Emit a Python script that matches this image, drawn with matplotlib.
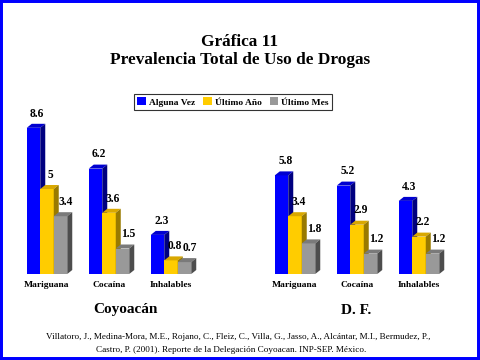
import numpy as np
import matplotlib
matplotlib.use('Agg')
import matplotlib.pyplot as plt
from matplotlib.patches import Polygon, Rectangle

# datos
drogas = ['Mariguana', 'Cocaína', 'Inhalables']
regiones = ['Coyoacán', 'D. F.']
series = ['Alguna Vez', 'Último Año', 'Último Mes']
alguna_vez = [8.6, 6.2, 2.3, 5.8, 5.2, 4.3]
ultimo_ano = [5, 3.6, 0.8, 3.4, 2.9, 2.2]
ultimo_mes = [3.4, 1.5, 0.7, 1.8, 1.2, 1.2]

titulo = 'Gráfica 11\nPrevalencia Total de Uso de Drogas'
cita1 = 'Villatoro, J., Medina-Mora, M.E., Rojano, C., Fleiz, C., Villa, G., Jasso, A., Alcántar, M.I., Bermudez, P.,'
cita2 = 'Castro, P. (2001). Reporte de la Delegación Coyoacan. INP-SEP. México.'

# colores: frente, tapa, lado
colores = [('#0000FF', '#0000D0', '#000080'),
           ('#FFCC00', '#D9A800', '#997A00'),
           ('#999999', '#7A7A7A', '#4D4D4D')]

plt.rcParams['font.family'] = ['Liberation Serif', 'DejaVu Serif']

fig = plt.figure(figsize=(4.8, 3.6), dpi=100)
fig.patch.set_facecolor('white')

# ejes: 62 px por grupo, 17 px por unidad
px_x = 62.0
px_y = 17.0
x0 = 47.0 - 0.6 * px_x
ax = fig.add_axes([x0 / 480, 86 / 360, 7.2 * px_x / 480, 154 / 360])
ax.set_xlim(-0.6, 6.6)
ax.set_ylim(0, 154 / px_y)
ax.axis('off')

pos = np.array([0, 1, 2, 4, 5, 6])
w = 13.5 / px_x
dx = 5 / px_x
dy = 4 / px_y

valores = [alguna_vez, ultimo_ano, ultimo_mes]
for j, vals in enumerate(valores):
    fc, tc, sc = colores[j]
    for i, v in enumerate(vals):
        x = pos[i] + (j - 1) * w - w / 2
        z = 2 + j * 0.1 + i * 0.01
        ax.add_patch(Rectangle((x, 0), w, v, fc=fc, ec='none', zorder=z))
        ax.add_patch(Polygon([(x, v), (x + dx, v + dy), (x + w + dx, v + dy), (x + w, v)],
                             closed=True, fc=tc, ec='none', zorder=z))
        ax.add_patch(Polygon([(x + w, 0), (x + w + dx, dy), (x + w + dx, v + dy), (x + w, v)],
                             closed=True, fc=sc, ec='none', zorder=z))
        ax.text(x + (w + dx) / 2 + 0.02 + 0.025 * (j == 2), v + dy + 0.25, f'{v:g}',
                ha='center', va='bottom', fontsize=8.3, fontweight='bold', zorder=5)

for i, p in enumerate(pos):
    ax.text(p, -0.65, drogas[i % 3], ha='center', va='center', fontsize=6.8,
            fontweight='bold')

# leyenda
handles = [Rectangle((0, 0), 1, 1, fc=c[0], ec='none') for c in colores]
leg = fig.legend(handles, series, loc='center', bbox_to_anchor=(233 / 480, 1 - 102 / 360),
                 ncol=3, prop={'size': 6.8, 'weight': 'bold'}, frameon=True, fancybox=False,
                 handlelength=0.9, handleheight=0.9, handletextpad=0.3, columnspacing=0.9,
                 borderpad=0.35, borderaxespad=0)
leg.get_frame().set_edgecolor('black')
leg.get_frame().set_linewidth(0.8)

fig.text(0.5, 1 - 51 / 360, titulo, ha='center', va='center', fontsize=12.4,
         fontweight='bold', linespacing=1.15)
fig.text(125 / 480, 1 - 310 / 360, regiones[0], ha='center', va='center', fontsize=11,
         fontweight='bold')
fig.text(356 / 480, 1 - 310 / 360, regiones[1], ha='center', va='center', fontsize=11,
         fontweight='bold')
fig.text(238 / 480, 1 - 337 / 360, cita1, ha='center', va='center', fontsize=6.6)
fig.text(231 / 480, 1 - 350 / 360, cita2, ha='center', va='center', fontsize=6.6)

# marco azul
fig.add_artist(Rectangle((0, 0), 1, 1, transform=fig.transFigure, fill=False,
                         ec='#0000FF', lw=4.3))

fig.savefig('out.png', dpi=100)
